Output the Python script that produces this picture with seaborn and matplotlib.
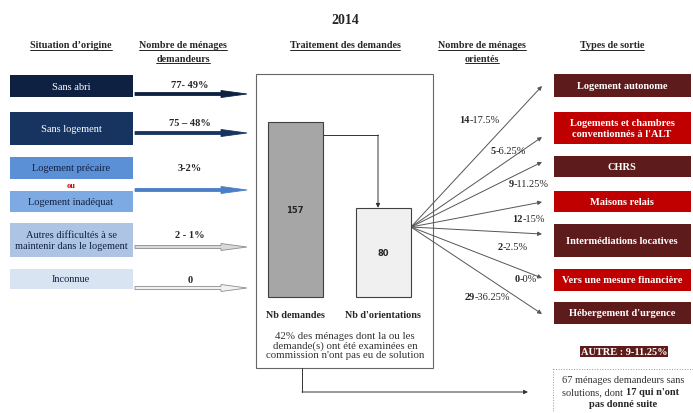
import matplotlib
matplotlib.use('Agg')
import matplotlib.pyplot as plt
import matplotlib.patches as mpatches
import seaborn as sns

sns.set_style('white')
plt.rcParams['font.family'] = ['Liberation Serif', 'DejaVu Serif']

# data
year = '2014'
origin_labels = ['Sans abri', 'Sans logement', 'Logement précaire',
                 'Autres difficultés à se\nmaintenir dans le logement', 'Inconnue']
origin_values = ['77- 49%', '75 – 48%', '3-2%', '2 - 1%', '0']
treat_labels = ['Nb demandes', "Nb d'orientations"]
treat_values = [157, 80]
exit_labels = ['Logement autonome', "Logements et chambres\nconventionnés à l'ALT", 'CHRS',
               'Maisons relais', 'Intermédiations locatives', 'Vers une mesure financière',
               "Hébergement d'urgence"]
exit_counts = [14, 5, 9, 12, 2, 0, 29]
exit_pcts = ['17.5%', '6.25%', '11.25%', '15%', '2.5%', '0%', '36.25%']
other_label = 'AUTRE : 9-11.25%'
no_solution_note = "42% des ménages dont la ou les\ndemande(s) ont été examinées en\ncommission n'ont pas eu de solution"

fig = plt.figure(figsize=(6.93, 4.14), dpi=100)
ax = fig.add_axes([0, 0, 1, 1])
ax.set_xlim(0, 693)
ax.set_ylim(414, 0)
ax.axis('off')

FS = 7.5

ax.text(345, 20, year, ha='center', va='center', fontsize=10, fontweight='bold')

# column headers, underlined
headers = [(71, 46, 'Situation d\u2019origine'),
           (183, 46, 'Nombre de ménages'),
           (183, 59, 'demandeurs'),
           (345, 46, 'Traitement des demandes'),
           (482, 46, 'Nombre de ménages'),
           (482, 59, 'orientés'),
           (612, 46, 'Types de sortie')]
head_texts = [ax.text(x, y, t, ha='center', va='center', fontsize=7.3, fontweight='bold')
              for x, y, t in headers]
fig.canvas.draw()
r = fig.canvas.get_renderer()
inv = ax.transData.inverted()
for t, (x, y, _) in zip(head_texts, headers):
    bb = t.get_window_extent(r)
    x0 = inv.transform((bb.x0, bb.y0))[0]
    x1 = inv.transform((bb.x1, bb.y0))[0]
    ax.plot([x0, x1], [y + 5, y + 5], color='black', lw=0.6)

# left boxes
left_boxes = [(76, 98, '#0f2142', 'white'),
              (113, 146, '#173461', 'white'),
              (158, 180, '#5b8fd6', '#0f2142'),
              (224, 258, '#aec4e4', '#0f2142'),
              (270, 290, '#d9e4f2', '#0f2142')]
for (y0, y1, fc, tc), lab in zip(left_boxes, origin_labels):
    ax.add_patch(mpatches.Rectangle((10, y0), 123, y1 - y0, facecolor=fc, edgecolor='none'))
    ax.text(71, (y0 + y1) / 2, lab, ha='center', va='center', fontsize=FS, color=tc,
            linespacing=1.15)
ax.add_patch(mpatches.Rectangle((10, 192), 123, 21, facecolor='#7eaae3', edgecolor='none'))
ax.text(71, 202.5, 'Logement inadéquat', ha='center', va='center', fontsize=FS, color='#0f2142')
ax.text(71, 186, 'ou', ha='center', va='center', fontsize=6, color='#d00000', fontweight='bold')

# left arrows
left_arrows = [(95, '#0f2142', '#0f2142'), (134, '#173461', '#173461'),
               (191, '#4a7fc8', '#4a7fc8'), (248, '#8c8c8c', '#d9d9d9'),
               (289, '#8c8c8c', '#f2f2f2')]
value_y = [86, 124, 169, 236, 281]
for (y, ec, fc), val, ty in zip(left_arrows, origin_values, value_y):
    ax.add_patch(mpatches.FancyArrow(135, y, 112, 0, width=3, head_width=7, head_length=26,
                                     length_includes_head=True, facecolor=fc, edgecolor=ec, lw=0.6))
    ax.text(190, ty, val, ha='center', va='center', fontsize=FS, fontweight='bold')

# middle frame
ax.add_patch(mpatches.Rectangle((256, 75), 177, 294, facecolor='white', edgecolor='#666666', lw=0.8))

# bars
base_y, top_y = 298, 123
bx = fig.add_axes([251 / 693, 1 - base_y / 414, 176 / 693, (base_y - top_y) / 414])
sns.barplot(x=treat_labels, y=treat_values, hue=treat_labels, palette=['#a6a6a6', '#f0f0f0'],
            width=0.625, edgecolor='#404040', linewidth=0.8, legend=False, ax=bx)
bx.set_ylim(0, max(treat_values))
bx.set_xlim(-0.5, 1.5)
bx.axis('off')
bx.patch.set_alpha(0)
for p in bx.patches:
    p.set_clip_on(False)
for i, v in enumerate(treat_values):
    bx.text(i, v / 2, str(v), ha='center', va='center', fontsize=6, fontweight='bold',
            family='DejaVu Sans')

bar2_top = base_y - treat_values[1] / max(treat_values) * (base_y - top_y)
ax.plot([323, 378], [136, 136], color='#333333', lw=0.7)
ax.annotate('', xy=(378, bar2_top), xytext=(378, 136),
            arrowprops=dict(arrowstyle='-|>', color='#333333', lw=0.7, mutation_scale=6,
                            shrinkA=0, shrinkB=0))

for xc, lab in zip([295, 383], treat_labels):
    ax.text(xc, 316, lab, ha='center', va='center', fontsize=7.3, fontweight='bold')
ax.text(345, 346, no_solution_note, ha='center', va='center', fontsize=7.8, color='#333333',
        linespacing=1.0)

# fan of arrows towards exit types
exit_y = [87, 138, 163, 203, 235, 279, 315]
label_pos = [(470, 121), (496, 152), (514, 185), (523, 220), (503, 248), (520, 280), (475, 298)]
for ty, c, p, (lx, ly) in zip(exit_y, exit_counts, exit_pcts, label_pos):
    ax.annotate('', xy=(542, ty), xytext=(411, 228),
                arrowprops=dict(arrowstyle='-|>', color='#555555', lw=0.7, mutation_scale=6,
                                shrinkA=0, shrinkB=0))
    ax.text(lx, ly, str(c), ha='right', va='center', fontsize=FS, fontweight='bold')
    ax.text(lx, ly, '-' + p, ha='left', va='center', fontsize=FS)

# right boxes
right_boxes = [(75, 98, '#5e1b1b'), (113, 145, '#c00000'), (157, 178, '#5e1b1b'),
               (192, 213, '#c00000'), (225, 258, '#5e1b1b'), (270, 292, '#c00000'),
               (303, 325, '#5e1b1b')]
for (y0, y1, fc), lab in zip(right_boxes, exit_labels):
    ax.add_patch(mpatches.Rectangle((554, y0), 137, y1 - y0, facecolor=fc, edgecolor='none'))
    ax.text(622, (y0 + y1) / 2, lab, ha='center', va='center', fontsize=FS, color='white',
            fontweight='bold', linespacing=1.15)

ax.text(624, 352.5, other_label, ha='center', va='center', fontsize=FS, color='white',
        fontweight='bold', bbox=dict(boxstyle='square,pad=0.1', facecolor='#5e1b1b', edgecolor='none'))

ax.add_patch(mpatches.Rectangle((553, 370), 140, 60, facecolor='white', edgecolor='#999999',
                                lw=0.7, linestyle=':'))
ax.text(623, 381, '67 ménages demandeurs sans', ha='center', va='center', fontsize=FS, color='#333333')
ax.text(626, 393, 'solutions, dont ', ha='right', va='center', fontsize=FS, color='#333333')
ax.text(626, 393, "17 qui n'ont", ha='left', va='center', fontsize=FS, fontweight='bold')
ax.text(623, 405, 'pas donné suite', ha='center', va='center', fontsize=FS, fontweight='bold')

# arrow from frame to the unresolved note
ax.annotate('', xy=(528, 393), xytext=(302, 393),
            arrowprops=dict(arrowstyle='-|>', color='#333333', lw=0.7, mutation_scale=6,
                            shrinkA=0, shrinkB=0))
ax.plot([302, 302], [369, 393], color='#333333', lw=0.7)

fig.savefig('out.png', dpi=100)
